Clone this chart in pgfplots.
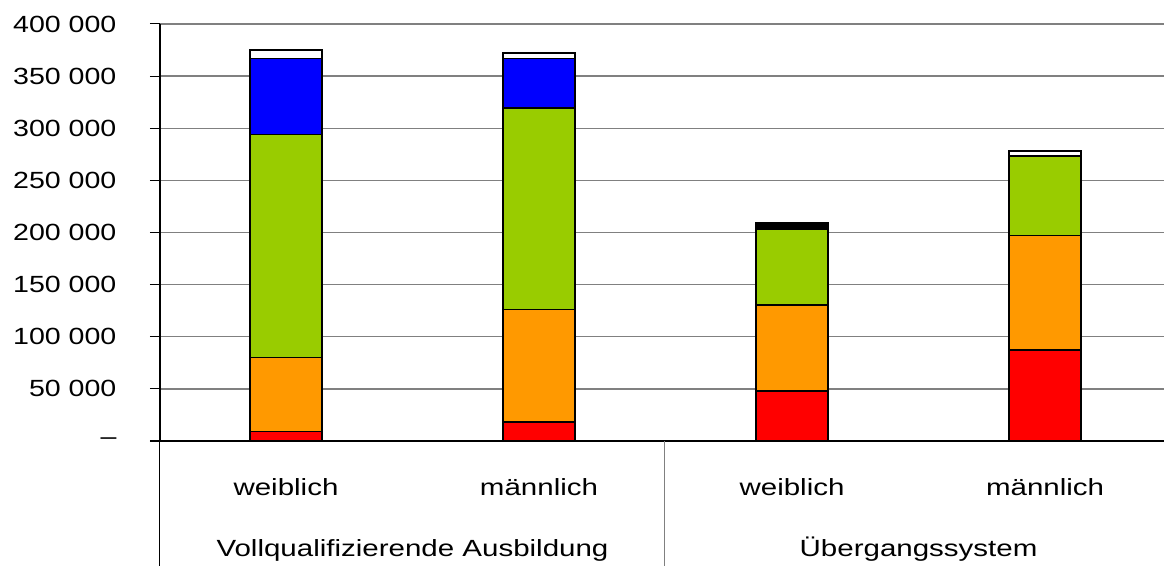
\documentclass[border=0pt]{standalone}
\usepackage{fontspec}
\setmainfont{Liberation Sans}
\usepackage{pgfplots}
\usepackage{pgfplotstable}
\pgfplotsset{compat=1.18}
\definecolor{cred}{HTML}{FF0000}
\definecolor{corange}{HTML}{FF9900}
\definecolor{cgreen}{HTML}{99CC00}
\definecolor{cblue}{HTML}{0000FF}
\definecolor{cgrid}{HTML}{808080}
\pgfplotstableread{
x red orange green blue black white
0 9000 71000 214000 73000 0 8000
1 18000 108000 193500 47500 0 5000
2 48000 82500 73000 0 6000 0
3 87300 110000 75500 0 1000 4500
}\datatab
\newcommand{\lbl}{\fontsize{23.5}{28}\selectfont}
\begin{document}
\begin{tikzpicture}
\begin{axis}[
  at={(0,0)}, anchor=south west,
  scale only axis, width=1004bp, height=417bp,
  xmin=-0.498, xmax=3.47, ymin=0, ymax=400000,
  ybar stacked, bar width=72bp,
  axis x line*=bottom, axis y line*=left,
  axis line style={black, line width=1.1bp, -},
  xtick=\empty,
  scaled y ticks=false,
  ytick={0,50000,100000,150000,200000,250000,300000,350000,400000},
  yticklabels={--,50 000,100 000,150 000,200 000,250 000,300 000,350 000,400 000},
  ymajorgrids, grid style={cgrid, line width=1.3bp},
  tick align=outside, major tick length=10bp,
  major tick style={black, line width=1bp},
  yticklabel style={font=\lbl, xscale=1.22, anchor=east, xshift=-24bp},
  every axis plot/.append style={draw=black, line width=1.5bp},
  clip=false,
]
\addplot[fill=cred] table[x=x,y=red] {\datatab};
\addplot[fill=corange] table[x=x,y=orange] {\datatab};
\addplot[fill=cgreen] table[x=x,y=green] {\datatab};
\addplot[fill=cblue] table[x=x,y=blue] {\datatab};
\addplot[fill=black] table[x=x,y=black] {\datatab};
\addplot[fill=white] table[x=x,y=white] {\datatab};
\draw[black, line width=1bp] (rel axis cs:0,0) -- ([yshift=-125bp]rel axis cs:0,0);
\draw[black, line width=1.1bp] ([xshift=-10bp]rel axis cs:0,0) -- (rel axis cs:0,0);
\draw[cgrid, line width=1bp] (axis cs:1.494,0) -- ([yshift=-125bp]axis cs:1.494,0);
\node[font=\lbl, xscale=1.26, anchor=base] at ([yshift=-54bp]axis cs:0,0) {weiblich};
\node[font=\lbl, xscale=1.26, anchor=base] at ([yshift=-54bp]axis cs:1,0) {männlich};
\node[font=\lbl, xscale=1.26, anchor=base] at ([yshift=-54bp]axis cs:2,0) {weiblich};
\node[font=\lbl, xscale=1.26, anchor=base] at ([yshift=-54bp]axis cs:3,0) {männlich};
\node[font=\lbl, xscale=1.26, anchor=base] at ([yshift=-115bp]axis cs:0.5,0) {Vollqualifizierende Ausbildung};
\node[font=\lbl, xscale=1.26, anchor=base] at ([yshift=-115bp]axis cs:2.5,0) {Übergangssystem};
\end{axis}
\pgfresetboundingbox
\useasboundingbox (-160bp,-125bp) rectangle (1004bp,441bp);
\end{tikzpicture}
\end{document}
